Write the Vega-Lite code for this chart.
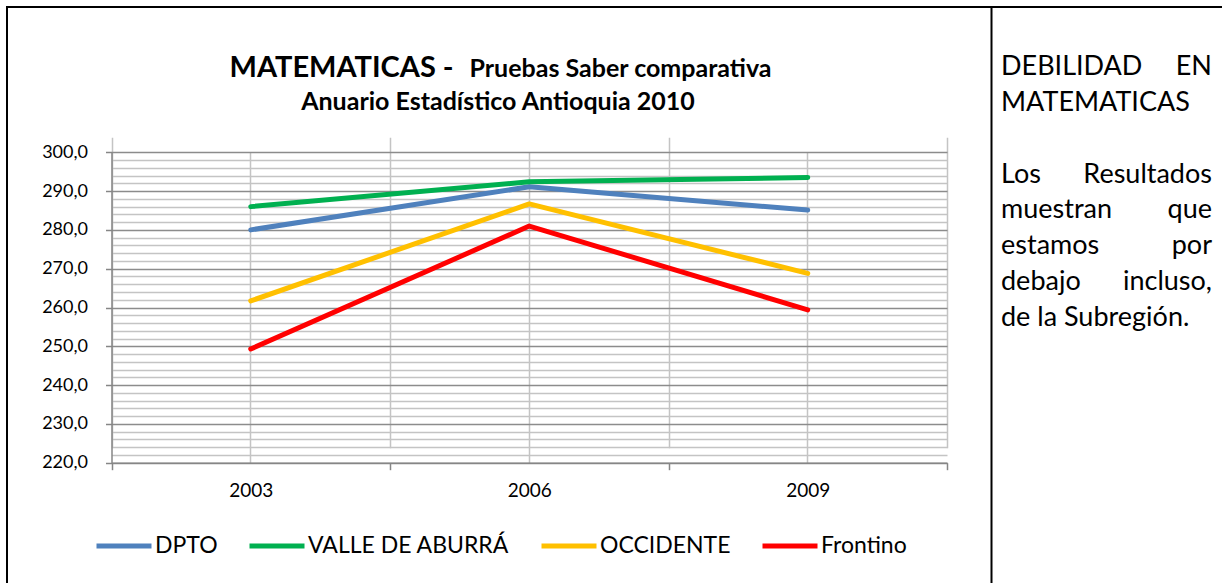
{
  "$schema": "https://vega.github.io/schema/vega-lite/v6.json",
  "autosize": {"type": "none"},
  "width": 1225,
  "height": 586,
  "padding": {"left": 7, "top": 7, "right": -10, "bottom": -10},
  "background": "white",
  "config": {"font": "Lato", "view": {"stroke": "black", "strokeWidth": 2}},
  "datasets": {
    "scores": [
      {"year": "2003", "series": "DPTO", "score": 280.0},
      {"year": "2006", "series": "DPTO", "score": 291.1},
      {"year": "2009", "series": "DPTO", "score": 285.1},
      {"year": "2003", "series": "VALLE DE ABURRÁ", "score": 286.0},
      {"year": "2006", "series": "VALLE DE ABURRÁ", "score": 292.4},
      {"year": "2009", "series": "VALLE DE ABURRÁ", "score": 293.5},
      {"year": "2003", "series": "OCCIDENTE", "score": 261.7},
      {"year": "2006", "series": "OCCIDENTE", "score": 286.7},
      {"year": "2009", "series": "OCCIDENTE", "score": 268.8},
      {"year": "2003", "series": "Frontino", "score": 249.3},
      {"year": "2006", "series": "Frontino", "score": 281.0},
      {"year": "2009", "series": "Frontino", "score": 259.4}
    ],
    "notes": [
      {"line": 0, "pos": 0, "word": "DEBILIDAD"},
      {"line": 0, "pos": 1, "word": "EN"},
      {"line": 1, "pos": 0, "word": "MATEMATICAS"},
      {"line": 3, "pos": 0, "word": "Los"},
      {"line": 3, "pos": 1, "word": "Resultados"},
      {"line": 4, "pos": 0, "word": "muestran"},
      {"line": 4, "pos": 1, "word": "que"},
      {"line": 5, "pos": 0, "word": "estamos"},
      {"line": 5, "pos": 1, "word": "por"},
      {"line": 6, "pos": 0, "word": "debajo"},
      {"line": 6, "pos": 1, "word": "incluso,"},
      {"line": 7, "pos": 0, "word": "de la Subregión."}
    ]
  },
  "title": {
    "text": "Anuario Estadístico Antioquia 2010",
    "anchor": "start",
    "align": "center",
    "dx": 491,
    "offset": -128,
    "baseline": "alphabetic",
    "fontSize": 25,
    "fontWeight": "bold",
    "font": "Lato",
    "color": "black"
  },
  "layer": [
    {
      "data": {"name": "scores"},
      "mark": {"type": "point", "opacity": 0},
      "encoding": {
        "x": {
          "field": "year", "type": "ordinal",
          "scale": {"type": "band", "domain": ["2003", "2006", "2009"], "range": [104.5, 940], "paddingInner": 0, "paddingOuter": 0},
          "axis": {"orient": "top", "offset": 0, "tickBand": "center", "bandPosition": 0.5, "grid": true, "gridColor": "#c4c4c4", "gridWidth": 1.5, "domain": false, "ticks": false, "labels": false,
            "title": "Pruebas Saber comparativa", "titleX": 462, "titleY": 69.5, "titleAngle": 0, "titleAlign": "left", "titleBaseline": "alphabetic", "titleFontSize": 25, "titleFontWeight": "bold", "titleColor": "black", "titleFont": "Lato"}
        },
        "y": {
          "field": "score", "type": "quantitative",
          "scale": {"domain": [220, 300], "range": [455.7, 145.3], "nice": false, "zero": false},
          "axis": {"orient": "left", "offset": 0,
            "values": [222, 224, 226, 228, 232, 234, 236, 238, 242, 244, 246, 248, 252, 254, 256, 258, 262, 264, 266, 268, 272, 274, 276, 278, 282, 284, 286, 288, 292, 294, 296, 298],
            "grid": true, "gridColor": "#c4c4c4", "gridWidth": 1.5, "domain": false, "ticks": false, "labels": false,
            "title": "MATEMATICAS -", "titleX": 222, "titleY": 69.5, "titleAngle": 0, "titleAlign": "left", "titleBaseline": "alphabetic", "titleFontSize": 29, "titleFontWeight": "bold", "titleColor": "black", "titleFont": "Lato"}
        }
      }
    },
    {
      "data": {"name": "scores"},
      "mark": {"type": "line", "strokeWidth": 5, "strokeCap": "round", "strokeJoin": "round"},
      "encoding": {
        "x": {
          "field": "year", "type": "ordinal", "bandPosition": 0.5,
          "scale": {"type": "band", "domain": ["2003", "2006", "2009"], "range": [104.5, 940], "paddingInner": 0, "paddingOuter": 0},
          "axis": {"orient": "bottom", "offset": -130.3, "tickBand": "extent", "grid": true, "gridColor": "#c4c4c4", "gridWidth": 1.5,
            "domainColor": "#868686", "domainWidth": 1.5, "tickColor": "#868686", "tickWidth": 1.5, "tickSize": 7,
            "labelFontSize": 19, "labelColor": "black", "labelPadding": 12, "labelAngle": 0, "title": null}
        },
        "y": {
          "field": "score", "type": "quantitative",
          "scale": {"domain": [220, 300], "range": [455.7, 145.3], "nice": false, "zero": false},
          "axis": {"orient": "left", "offset": -104.5, "values": [220, 230, 240, 250, 260, 270, 280, 290, 300],
            "grid": true, "gridColor": "#8c8c8c", "gridWidth": 1.5, "domainColor": "#868686", "domainWidth": 1.5, "tickColor": "#868686", "tickWidth": 1.5, "tickSize": 6,
            "labelFontSize": 18, "labelColor": "black", "labelPadding": 18,
            "labelExpr": "replace(format(datum.value, '.1f'), '.', ',')", "title": null}
        },
        "color": {
          "field": "series", "type": "nominal",
          "scale": {"domain": ["DPTO", "VALLE DE ABURRÁ", "OCCIDENTE", "Frontino"], "range": ["#4F81BD", "#00B050", "#FFC000", "#FF0000"]},
          "legend": {"orient": "none", "legendX": 87, "legendY": 509, "direction": "horizontal", "title": null,
            "symbolType": "stroke", "symbolSize": 3025, "symbolStrokeWidth": 5,
            "labelFontSize": 23, "labelColor": "black", "labelOffset": 1, "labelLimit": 400, "columnPadding": 21, "padding": 0}
        }
      }
    },
    {
      "data": {"name": "notes"},
      "transform": [{"filter": "datum.pos == 0"}],
      "mark": {"type": "text", "align": "left", "baseline": "alphabetic", "fontSize": 27, "font": "Lato", "color": "black"},
      "encoding": {
        "x": {"field": "pos", "type": "quantitative", "scale": {"domain": [0, 1], "range": [994, 1205]}, "axis": null},
        "y": {"field": "line", "type": "quantitative", "scale": {"domain": [0, 7], "range": [68, 319]}, "axis": null},
        "text": {"field": "word"}
      }
    },
    {
      "data": {"name": "notes"},
      "transform": [{"filter": "datum.pos == 1"}],
      "mark": {"type": "text", "align": "right", "baseline": "alphabetic", "fontSize": 27, "font": "Lato", "color": "black"},
      "encoding": {
        "x": {"field": "pos", "type": "quantitative", "scale": {"domain": [0, 1], "range": [994, 1205]}, "axis": null},
        "y": {"field": "line", "type": "quantitative", "scale": {"domain": [0, 7], "range": [68, 319]}, "axis": null},
        "text": {"field": "word"}
      }
    },
    {
      "data": {"name": "scores"},
      "mark": {"type": "point", "opacity": 0},
      "encoding": {
        "y": {"field": "score", "type": "quantitative",
          "axis": {"orient": "left", "offset": -984, "domain": true, "domainColor": "black", "domainWidth": 2, "ticks": false, "labels": false, "grid": false, "title": null}}
      }
    }
  ],
  "resolve": {
    "scale": {"x": "independent", "y": "independent"},
    "axis": {"x": "independent", "y": "independent"}
  }
}
